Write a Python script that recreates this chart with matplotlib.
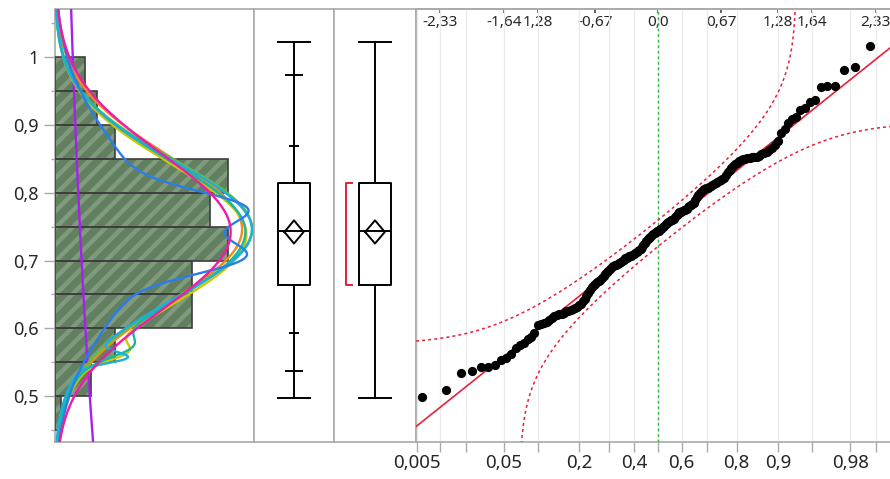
import numpy as np
import matplotlib
matplotlib.use('Agg')
import matplotlib.pyplot as plt
from statistics import NormalDist

plt.rcParams['font.family'] = ['Noto Sans', 'DejaVu Sans']
plt.rcParams['hatch.linewidth'] = 3.2

# sorted sample values
values = [
    0.499, 0.510, 0.534, 0.537, 0.543, 0.544, 0.547, 0.554, 0.557, 0.563,
    0.571, 0.575, 0.579, 0.584, 0.588, 0.593, 0.605, 0.607, 0.608, 0.610,
    0.613, 0.616, 0.618, 0.620, 0.621, 0.622, 0.623, 0.625, 0.626, 0.627,
    0.628, 0.630, 0.632, 0.634, 0.636, 0.640, 0.644, 0.648, 0.652, 0.657,
    0.661, 0.664, 0.666, 0.668, 0.670, 0.672, 0.675, 0.677, 0.680, 0.683,
    0.685, 0.688, 0.690, 0.692, 0.693, 0.694, 0.695, 0.697, 0.698, 0.700,
    0.701, 0.703, 0.704, 0.705, 0.706, 0.707, 0.708, 0.709, 0.711, 0.713,
    0.714, 0.715, 0.717, 0.720, 0.723, 0.726, 0.729, 0.731, 0.733, 0.735,
    0.737, 0.739, 0.740, 0.742, 0.743, 0.744, 0.746, 0.747, 0.749, 0.751,
    0.753, 0.755, 0.757, 0.758, 0.759, 0.760, 0.761, 0.764, 0.767, 0.769,
    0.771, 0.772, 0.773, 0.774, 0.775, 0.776, 0.778, 0.780, 0.782, 0.783,
    0.785, 0.789, 0.793, 0.796, 0.799, 0.801, 0.803, 0.805, 0.806, 0.807,
    0.808, 0.810, 0.811, 0.812, 0.814, 0.815, 0.817, 0.818, 0.820, 0.822,
    0.826, 0.830, 0.833, 0.836, 0.839, 0.842, 0.844, 0.846, 0.848, 0.849,
    0.850, 0.851, 0.851, 0.852, 0.852, 0.853, 0.854, 0.856, 0.858, 0.860,
    0.863, 0.866, 0.870, 0.876, 0.887, 0.893, 0.903, 0.908, 0.911, 0.921,
    0.925, 0.933, 0.936, 0.955, 0.956, 0.957, 0.980, 0.984, 1.015, 1.020,
]

# histogram (bins of 0.05)
bin_lows = [0.45, 0.50, 0.55, 0.60, 0.65, 0.70, 0.75, 0.80, 0.85, 0.90, 0.95]
bin_counts = [1, 6, 10, 23, 23, 29, 26, 29, 10, 7, 5]
bin_width = 0.05

# box plot summary
box_q1, box_med, box_q3 = 0.664, 0.743, 0.814
whisk_lo, whisk_hi = 0.498, 1.021
quant_wide = [0.538, 0.973]
quant_narrow = [0.593, 0.869]
mean_val, mean_ci = 0.742, 0.017
short_lo, short_hi = 0.664, 0.814

# normal fit for quantile plot
fit_mean, fit_sd = 0.740, 0.110
band_d = 0.07

# fitted density curves: exponential mean, or list of (weight, mean, sd) normal components
fits = [
    ('#a522ee', 'expo', 0.742),
    ('#f28a1e', 'mix', [(1.0, 0.746, 0.108)]),
    ('#d4c400', 'mix', [(0.985, 0.738, 0.104), (0.015, 0.565, 0.012)]),
    ('#62c040', 'mix', [(0.6, 0.758, 0.096), (0.4, 0.722, 0.11)]),
    ('#16b8a0', 'mix', [(0.98, 0.742, 0.104), (0.02, 0.572, 0.015)]),
    ('#1cb0d8', 'mix', [(0.985, 0.745, 0.101), (0.015, 0.557, 0.008)]),
    ('#2b7de9', 'mix', [(0.12, 0.706, 0.025), (0.12, 0.776, 0.025), (0.6, 0.745, 0.125)]),
    ('#ee1ca6', 'mix', [(1.0, 0.742, 0.115)]),
]

prob_ticks = [0.005, 0.01, 0.02, 0.05, 0.1, 0.2, 0.3, 0.4, 0.5, 0.6, 0.7, 0.8, 0.9, 0.95, 0.98, 0.99]
prob_labels = ['0,005', '', '', '0,05', '', '0,2', '', '0,4', '', '0,6', '', '0,8', '0,9', '', '0,98', '']
z_ticks = [-2.326, -1.645, -1.2816, -0.674, 0.0, 0.674, 1.2816, 1.645, 2.326]
z_labels = ['-2,33', '-1,64', '1,28', '-0,67', '0,0', '0,67', '1,28', '1,64', '2,33']

y_ticks = [0.5, 0.6, 0.7, 0.8, 0.9, 1.0]
y_labels = ['0,5', '0,6', '0,7', '0,8', '0,9', '1']
y_minor = [0.45, 0.55, 0.65, 0.75, 0.85, 0.95, 1.05]

ylo, yhi = 0.433, 1.07
frame = '#a9a9a9'
txt = '#262626'
nd = NormalDist()

W, H = 890, 479
fig = plt.figure(figsize=(8.9, 4.79), dpi=100)


def px_axes(x0, x1, y0=9, y1=442):
    return fig.add_axes([x0 / W, (H - y1) / H, (x1 - x0) / W, (y1 - y0) / H])


def style_frame(ax):
    for s in ax.spines.values():
        s.set_color(frame)
        s.set_linewidth(1.2)


# ---- histogram panel
ax1 = px_axes(55, 254)
style_frame(ax1)
ax1.set_ylim(ylo, yhi)
ax1.set_xlim(0, 33.4)
centers = [b + bin_width / 2 for b in bin_lows]
ax1.barh(centers, bin_counts, height=bin_width, color='#62805f', edgecolor='#7f9a7d',
         hatch='//', linewidth=0, zorder=2)
ax1.barh(centers, bin_counts, height=bin_width, color='none', edgecolor='#3d3d3d',
         linewidth=1.2, zorder=3)
yy = np.linspace(ylo, yhi, 500)
scale = len(values) * bin_width
for color, kind, par in fits:
    if kind == 'expo':
        dens = np.exp(-yy / par) / par
    else:
        dens = np.zeros_like(yy)
        for w, mu, sd in par:
            dens += w * np.exp(-0.5 * ((yy - mu) / sd) ** 2) / (sd * np.sqrt(2 * np.pi))
    ax1.plot(dens * scale, yy, color=color, lw=1.7, zorder=4, solid_capstyle='round')
ax1.set_xticks([])
ax1.set_yticks(y_ticks)
ax1.set_yticklabels(y_labels)
ax1.set_yticks(y_minor, minor=True)
ax1.tick_params(axis='y', which='major', length=8, width=1, color=frame, pad=3.5,
                labelsize=13, labelcolor=txt)
ax1.tick_params(axis='y', which='minor', length=3, width=1, color=frame)

# ---- box plot panels
ax2 = px_axes(254, 334)
ax3 = px_axes(334, 416)
for ax in (ax2, ax3):
    style_frame(ax)
    stats = [dict(med=box_med, q1=box_q1, q3=box_q3, whislo=whisk_lo, whishi=whisk_hi, fliers=[])]
    ax.bxp(stats, positions=[0.5], widths=0.4, showfliers=False, manage_ticks=False,
           boxprops=dict(color='black', lw=1.4), medianprops=dict(color='black', lw=1.4),
           whiskerprops=dict(color='black', lw=1.4), capprops=dict(color='black', lw=1.4),
           capwidths=0.4)
    ax.plot([0.5 - 0.12, 0.5, 0.5 + 0.12, 0.5, 0.5 - 0.12],
            [mean_val, mean_val + mean_ci, mean_val, mean_val - mean_ci, mean_val],
            color='black', lw=1.4, zorder=5)
    ax.set_ylim(ylo, yhi)
    ax.set_xlim(0, 1)
    ax.set_xticks([])
    ax.set_yticks([])
for q in quant_wide:
    ax2.plot([0.4, 0.6], [q, q], color='black', lw=1.4)
for q in quant_narrow:
    ax2.plot([0.45, 0.55], [q, q], color='black', lw=1.4)
ax3.plot([0.215, 0.143, 0.143, 0.215], [short_hi, short_hi, short_lo, short_lo],
         color='#e21d3c', lw=1.4)

# ---- normal quantile plot
zl, zr = -2.585, 2.65
ax4 = px_axes(416, 416 + (zr - zl) * 93.6)
style_frame(ax4)
ax4.spines['right'].set_visible(False)
ax4.set_ylim(ylo, yhi)
ax4.set_xlim(zl, zr)
n = len(values)
zq = [nd.inv_cdf((i + 1) / (n + 1)) for i in range(n)]
ax4.scatter(zq, values, s=44, color='black', zorder=6, linewidths=0)
zz = np.linspace(zl, zr, 800)
ax4.plot(zz, fit_mean + fit_sd * zz, color='#e8213a', lw=1.2, zorder=4)
pp = [nd.cdf(z) for z in zz]
upper = [fit_mean + fit_sd * nd.inv_cdf(p + band_d) if p + band_d < 1 else np.nan for p in pp]
lower = [fit_mean + fit_sd * nd.inv_cdf(p - band_d) if p - band_d > 0 else np.nan for p in pp]
ax4.plot(zz, upper, color='#e8213a', lw=1.1, ls=(0, (2, 2)), zorder=4)
ax4.plot(zz, lower, color='#e8213a', lw=1.1, ls=(0, (2, 2)), zorder=4)
ax4.axvline(0, color='#2fb83a', lw=1.0, ls=(0, (2, 2)), zorder=3)

ax4.set_xticks([nd.inv_cdf(p) for p in prob_ticks])
ax4.set_xticklabels(prob_labels)
ax4.set_yticks([])
ax4.tick_params(axis='x', length=7, width=1, color=frame, pad=2, labelsize=13.5, labelcolor=txt)
ax4.grid(axis='x', color='#ebebeb', lw=1, zorder=0)

top = ax4.secondary_xaxis('top')
top.set_xticks(z_ticks)
top.set_xticklabels(z_labels)
top.tick_params(direction='in', length=3, width=1.2, color='#444444', pad=-15,
                labelsize=11, labelcolor=txt)
top.spines['top'].set_color(frame)
top.spines['top'].set_linewidth(1.2)

fig.savefig('out.png', dpi=100)
